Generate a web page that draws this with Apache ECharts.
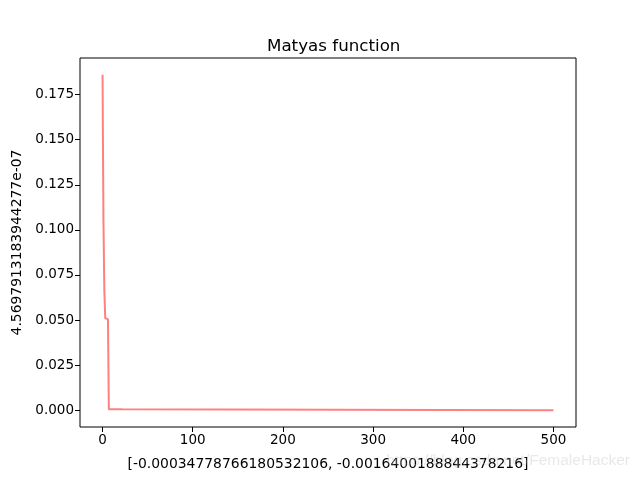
<!DOCTYPE html>
<html>
<head>
<meta charset="utf-8">
<script src="https://cdn.jsdelivr.net/npm/echarts@6/dist/echarts.min.js"></script>
</head>
<body style="margin:0">
<div id="main" style="width: 640px; height: 480px"></div>
<script>
// iteration index and best value per iteration
var iters = [0, 1, 2, 3, 6, 7, 22, 23, 500];
var values = [0.186, 0.105, 0.066, 0.051, 0.0505, 0.0006, 0.0005, 0.0000005, 0.0000005];
var xTicks = [0, 100, 200, 300, 400, 500];
var yTicks = [0, 0.025, 0.05, 0.075, 0.1, 0.125, 0.15, 0.175];
var titleText = "Matyas function";
var xName = "[-0.00034778766180532106, -0.0016400188844378216]";
var yName = "4.5697913183944277e-07";

var font = "DejaVu Sans";
var myChart = echarts.init(document.getElementById("main"));

var points = [];
for (var i = 0; i < iters.length; i++) {
  points.push([iters[i], values[i]]);
}

var option = {
  animation: false,
  title: {
    text: titleText,
    left: 262,
    top: 33,
    textStyle: { fontFamily: font, fontSize: 16.7, fontWeight: "normal", color: "#000" }
  },
  grid: {
    left: 80,
    right: 64,
    top: 58,
    bottom: 53,
    show: true,
    borderColor: "#000",
    borderWidth: 1,
    backgroundColor: "#fff"
  },
  xAxis: {
    type: "value",
    min: -25,
    max: 525,
    name: xName,
    nameLocation: "middle",
    nameGap: 30,
    nameTextStyle: { fontFamily: font, fontSize: 13.9, color: "#000" },
    axisLine: { show: false, onZero: false },
    splitLine: { show: false },
    axisTick: { show: true, inside: false, length: 5, customValues: xTicks, lineStyle: { color: "#000" } },
    axisLabel: {
      customValues: xTicks,
      margin: 6,
      fontFamily: font,
      fontSize: 13.5,
      color: "#000"
    }
  },
  yAxis: {
    type: "value",
    min: -0.0093,
    max: 0.1953,
    name: yName,
    nameLocation: "middle",
    nameRotate: 90,
    nameGap: 56,
    nameTextStyle: { fontFamily: font, fontSize: 13.9, color: "#000" },
    axisLine: { show: false, onZero: false },
    splitLine: { show: false },
    axisTick: { show: true, inside: false, length: 5, customValues: yTicks, lineStyle: { color: "#000" } },
    axisLabel: {
      customValues: yTicks,
      margin: 6,
      fontFamily: font,
      fontSize: 13.5,
      color: "#000",
      formatter: function (v) { return v.toFixed(3); }
    }
  },
  graphic: [
    {
      type: "text",
      right: 10,
      top: 453,
      z: 100,
      style: {
        text: "https://blog.csdn.net/FemaleHacker",
        fontFamily: "Liberation Sans",
        fontSize: 15.5,
        fill: "rgba(190,190,190,0.35)"
      }
    }
  ],
  series: [
    {
      type: "line",
      data: points,
      showSymbol: false,
      lineStyle: { color: "#ff8080", width: 2 }
    }
  ]
};
myChart.setOption(option);
</script>
</body>
</html>
